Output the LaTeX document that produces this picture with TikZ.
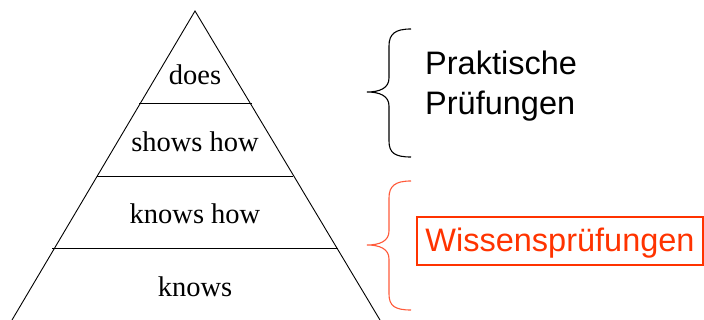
\documentclass[tikz,border=0pt]{standalone}
\usepackage{fontspec}
\setmainfont{Liberation Serif}
\newfontfamily\arialf{Liberation Sans}
\definecolor{wred}{HTML}{FF3300}
\definecolor{bred}{HTML}{FF5A3A}
\begin{document}
\begin{tikzpicture}[x=1pt,y=-1pt,
  level/.style={font=\fontsize{28.5}{32}\selectfont, anchor=base, inner sep=0pt},
  sidetext/.style={font=\arialf\fontsize{32.5}{40}\selectfont, inner sep=0pt},
  edge/.style={line width=0.9pt, black},
  bracestyle/.style={line width=1.1pt}]
\useasboundingbox (0,0) rectangle (704,320);
% pyramid corners
\coordinate (apex) at (195,11);
\coordinate (bl) at (12,320);
\coordinate (br) at (380,320);
\draw[edge] (bl) -- (apex) -- (br);
% level separators
\coordinate (s1l) at (139,103); \coordinate (s1r) at (252,103);
\coordinate (s2l) at (97,176);  \coordinate (s2r) at (293,176);
\coordinate (s3l) at (52,248);  \coordinate (s3r) at (338,248);
\draw[edge] (s1l) -- (s1r);
\draw[edge] (s2l) -- (s2r);
\draw[edge] (s3l) -- (s3r);
% labels
\node[level] (does) at (195,85) {does};
\node[level] (shows) at (195,152) {shows how};
\node[level] (knowshow) at (195,224) {knows how};
\node[level] (knows) at (195,297) {knows};
% black brace
\coordinate (b1t) at (411,29);
\coordinate (b1tip) at (367,92);
\coordinate (b1b) at (411,157);
\draw[bracestyle, black] (b1t) .. controls (395,29) and (389,34) .. (389,46)
  -- (389,78) .. controls (389,88) and (380,92) .. (b1tip)
  .. controls (380,92) and (389,96) .. (389,106)
  -- (389,141) .. controls (389,153) and (395,157) .. (b1b);
% red brace
\coordinate (b2t) at (411,181);
\coordinate (b2tip) at (367,245);
\coordinate (b2b) at (411,310);
\draw[bracestyle, bred] (b2t) .. controls (395,181) and (389,186) .. (389,198)
  -- (389,231) .. controls (389,241) and (380,245) .. (b2tip)
  .. controls (380,245) and (389,249) .. (389,259)
  -- (389,294) .. controls (389,306) and (395,310) .. (b2b);
% side texts
\node[sidetext, anchor=base west] (prak) at (425,75) {Praktische};
\node[sidetext, anchor=base west] (pruef) at (425,115) {Prüfungen};
\node[sidetext, draw=wred, text=wred, line width=1.1pt, minimum width=286pt, minimum height=48pt,
  text height=24pt, text depth=2.6pt] (wissen) at (560,241) {Wissensprüfungen};
\end{tikzpicture}
\end{document}
